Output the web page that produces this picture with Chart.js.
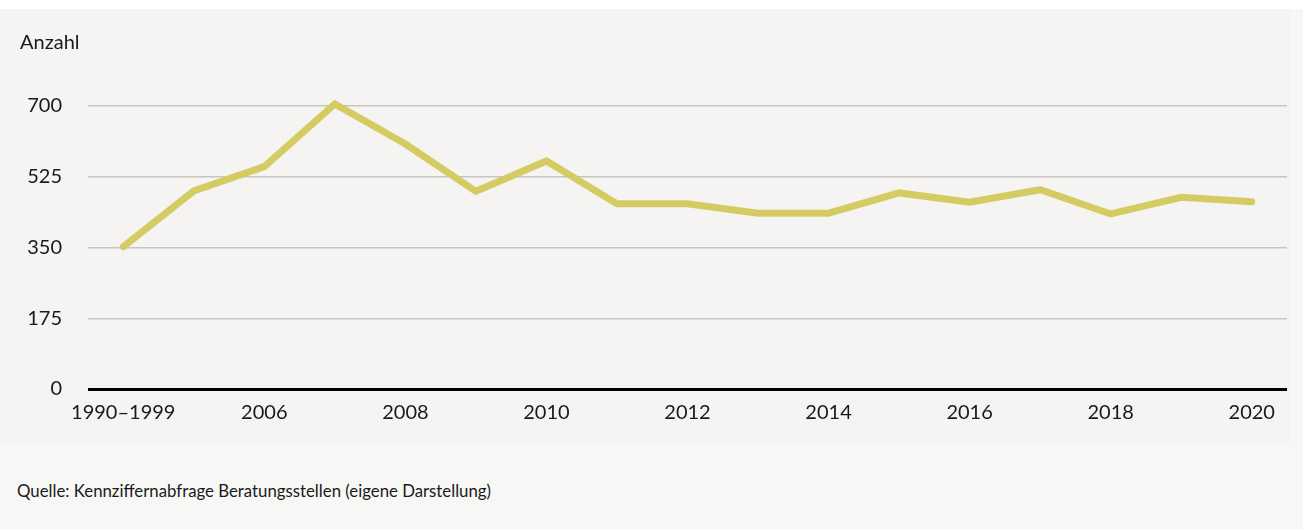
<!DOCTYPE html>
<html lang="de">
<head>
  <meta charset="UTF-8" />
  <title>Anzahl – Kennziffernabfrage</title>
  <script src="https://cdn.jsdelivr.net/npm/chart.js"></script>
  <style>
    * { box-sizing: border-box; font-family: 'Lato', sans-serif; }
    body {
      margin: 0;
      background: #f7f7f6;
      width: 1303px;
      height: 529px;
      overflow: hidden;
      position: relative;
    }
    .topbar { position: absolute; left: 0; top: 0; width: 1303px; height: 9px; background: #fff; }
    .panel {
      position: absolute;
      left: 0;
      top: 9px;
      width: 1290px;
      height: 433px;
      background: #f5f4f2;
    }
    .unit { position: absolute; left: 20px; top: 29px; font-size: 20px; color: #1a1a1a; }
    .source { position: absolute; left: 17px; top: 480px; font-size: 16.8px; color: #1a1a1a; }
    canvas { position: absolute; left: 0; top: 0; }
  </style>
</head>
<body>
  <div class="topbar"></div>
  <div class="panel">
    <canvas id="lineChart" width="1290" height="433"></canvas>
  </div>
  <div class="unit">Anzahl</div>
  <div class="source">Quelle: Kennziffernabfrage Beratungsstellen (eigene Darstellung)</div>

  <script>
    // Daten
    const categories = ['1990–1999', '2005', '2006', '2007', '2008', '2009', '2010', '2011', '2012',
                        '2013', '2014', '2015', '2016', '2017', '2018', '2019', '2020'];
    const anzahl = [352, 490, 550, 705, 606, 489, 564, 458, 458, 435, 435, 485, 462, 493, 433, 474, 463];
    const yTicks = [0, 175, 350, 525, 700];

    const ctx = document.getElementById('lineChart').getContext('2d');
    new Chart(ctx, {
      type: 'line',
      data: {
        labels: categories,
        datasets: [{
          label: 'Anzahl',
          data: anzahl,
          borderColor: '#d4cc63',
          borderWidth: 7,
          borderCapStyle: 'round',
          borderJoinStyle: 'miter',
          pointRadius: 0,
          tension: 0,
          fill: false,
          clip: false
        }]
      },
      options: {
        responsive: false,
        animation: false,
        layout: { padding: { top: 97, right: 3, left: 0, bottom: 0 } },
        plugins: { legend: { display: false }, tooltip: { enabled: false } },
        scales: {
          x: {
            offset: true,
            grid: { display: false },
            border: { display: false },
            ticks: {
              autoSkip: false,
              maxRotation: 0,
              padding: 4,
              color: '#1a1a1a',
              font: { family: 'Lato', size: 20 },
              callback: (v, i) => (i % 2 === 0 ? categories[i] : '')
            },
            afterFit: s => { s.height = 53; }
          },
          y: {
            min: 0,
            max: 700,
            afterBuildTicks: s => { s.ticks = yTicks.map(v => ({ value: v })); },
            grid: {
              drawTicks: false,
              color: c => (c.tick && c.tick.value === 0 ? '#000' : '#c6c5c3'),
              lineWidth: c => (c.tick && c.tick.value === 0 ? 3 : 1.5)
            },
            border: { display: false },
            ticks: {
              padding: 26,
              color: '#1a1a1a',
              font: { family: 'Lato', size: 20 }
            },
            afterFit: s => { s.width = 88; }
          }
        }
      }
    });
  </script>
</body>
</html>
